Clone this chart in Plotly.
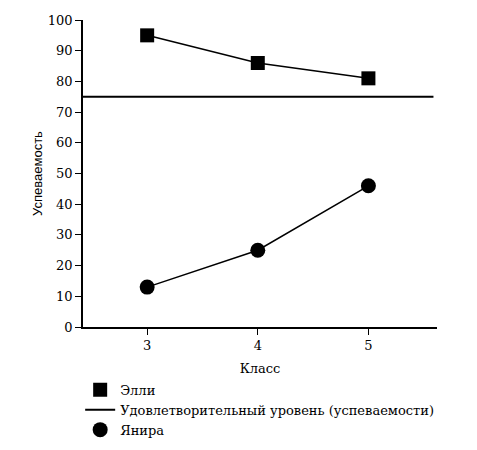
import plotly.graph_objects as go

grades = [3, 4, 5]
ellie = [95, 86, 81]
yanira = [13, 25, 46]
threshold = 75

names = ["Элли", "Удовлетворительный уровень (успеваемости)", "Янира"]

serif = "DejaVu Serif"

fig = go.Figure()

fig.add_trace(
    go.Scatter(
        x=grades,
        y=ellie,
        mode="lines+markers",
        line=dict(color="black", width=1.5),
        marker=dict(symbol="square", size=14, color="black"),
        showlegend=False,
    )
)
fig.add_trace(
    go.Scatter(
        x=grades,
        y=yanira,
        mode="lines+markers",
        line=dict(color="black", width=1.5),
        marker=dict(symbol="circle", size=15, color="black"),
        showlegend=False,
    )
)

# satisfactory level across the plot
fig.add_shape(
    type="line",
    xref="paper",
    yref="y",
    x0=0,
    x1=0.99,
    y0=threshold,
    y1=threshold,
    line=dict(color="black", width=2),
)

# legend-only entries
fig.add_trace(
    go.Scatter(
        x=[None],
        y=[None],
        mode="markers",
        marker=dict(symbol="square", size=14, color="black"),
        name=names[0],
    )
)
fig.add_trace(
    go.Scatter(
        x=[None],
        y=[None],
        mode="lines",
        line=dict(color="black", width=2),
        name=names[1],
    )
)
fig.add_trace(
    go.Scatter(
        x=[None],
        y=[None],
        mode="markers",
        marker=dict(symbol="circle", size=15, color="black"),
        name=names[2],
    )
)

# page body adds 8px; figure is made taller than the window so the
# legend does not squeeze the plot area (the overflow is cut off)
fig.update_layout(
    width=469,
    height=470,
    margin=dict(l=75, r=40, t=12, b=151),
    plot_bgcolor="white",
    paper_bgcolor="white",
    font=dict(family=serif, size=13, color="black"),
    legend=dict(
        x=-0.008,
        y=-0.156,
        xanchor="left",
        yanchor="top",
        traceorder="normal",
        font=dict(family=serif, size=13),
        tracegroupgap=0,
        itemwidth=30,
    ),
)

fig.update_xaxes(
    range=[2.42, 5.62],
    tickvals=grades,
    automargin=False,
    showgrid=False,
    zeroline=False,
    showline=True,
    linecolor="black",
    linewidth=1.5,
    ticks="outside",
    ticklen=6,
    tickcolor="black",
    title=dict(text="Класс", font=dict(family=serif, size=13), standoff=12),
)
fig.update_yaxes(
    range=[0, 100],
    dtick=10,
    automargin=False,
    showgrid=False,
    zeroline=False,
    showline=True,
    linecolor="black",
    linewidth=1.5,
    ticks="outside",
    ticklen=6,
    tickcolor="black",
    title=dict(
        text="Успеваемость",
        font=dict(family="Liberation Sans", size=13),
        standoff=2,
    ),
)

fig.write_html("out.html")
